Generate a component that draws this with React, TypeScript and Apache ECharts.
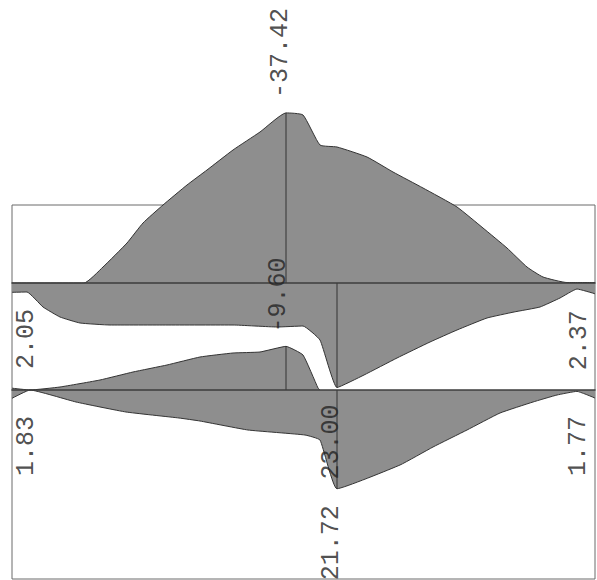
import React, { useEffect, useRef } from "react";
import * as echarts from "echarts";

// Beam positions (m) and diagram values
const X_MAX = 11.66;

// Diagram 1 (top)
const diag1Pos = [0, 1.44, 1.82, 2.3, 2.62, 3.02, 3.5, 3.9, 4.42, 4.96, 5.48, 5.82, 6.16, 6.5, 7.1, 7.62, 8.22, 8.9, 9.42, 9.9, 10.3, 10.62, 11.1, 11.66];
const diag1Val = [0, 0, -3.52, -8.8, -13.2, -17.16, -21.56, -24.86, -29.26, -33.22, -37.42, -36.96, -30.36, -29.92, -27.72, -24.42, -20.9, -16.72, -12.1, -7.7, -3.52, -1.32, -0.1, -0.1];

// Diagram 2 (middle, hanging from the first baseline)
const diag2Pos = [0, 0.3, 0.62, 0.96, 1.36, 1.96, 3.1, 4.42, 5.3, 5.82, 6.16, 6.5, 7.04, 7.7, 8.36, 8.9, 9.5, 10.04, 10.56, 10.96, 11.3, 11.66];
const diag2Val = [2.05, 1.98, 5.28, 7.48, 8.8, 9.24, 9.24, 9.24, 9.68, 9.46, 12.54, 23.0, 20.24, 16.5, 12.98, 10.34, 7.7, 6.38, 5.28, 3.3, 1.32, 2.37];

// Diagram 3 (lower baseline) – part above the baseline
const diag3UPos = [0, 0.36, 0.96, 1.76, 2.42, 3.1, 3.76, 4.42, 4.96, 5.48, 5.82, 6.12, 6.16];
const diag3UVal = [-0.4, 0, -0.66, -2.2, -3.96, -5.5, -7.26, -8.14, -8.36, -9.6, -7.7, -0.44, 0];

// Diagram 3 – part below the baseline
const diag3LPos = [0, 0.36, 1.28, 2.28, 3.34, 3.76, 4.72, 5.86, 6.16, 6.5, 7.76, 8.42, 9.1, 9.76, 10.42, 10.9, 11.3, 11.66];
const diag3LVal = [1.83, 0, 2.64, 4.84, 6.16, 6.82, 8.8, 9.9, 11.0, 21.72, 16.5, 12.54, 8.8, 5.06, 2.64, 1.1, 0.3, 1.77];

// Ordinate lines [position, value]
const ord1 = [5.48, -37.42];
const ord2 = [6.5, 23.0];
const ord3U = [5.48, -9.6];
const ord3L = [6.5, 21.72];

// Value labels: text, position, value (per diagram)
const labelsA = [{ t: "-37.42", x: 5.36, y: -50.6 }];
const labelsB = [
  { t: "2.05", x: 0.28, y: 12.3 },
  { t: "2.37", x: 11.34, y: 12.6 },
  { t: "23.00", x: 6.38, y: 35.0 },
];
const labelsC = [
  { t: "-9.60", x: 5.32, y: -20.9 },
  { t: "1.83", x: 0.28, y: 12.3 },
  { t: "1.77", x: 11.32, y: 12.3 },
  { t: "21.72", x: 6.38, y: 33.6 },
];

const K = 50 / 11; // px per value unit
const FILL = "#8e8e8e";
const EDGE = "#333333";

const zip = (a: number[], b: number[]) => a.map((v, i) => [v, b[i]]);

export default function App() {
  const ref = useRef<HTMLDivElement>(null);
  useEffect(() => {
    if (!ref.current) return;
    const chart = echarts.init(ref.current, undefined, { renderer: "svg" });

    const yA = { min: -60, max: 0 };
    const yB = { min: 0, max: 23.5 };
    const yC = { min: -22, max: 22 };

    const grids = [
      { left: 12, top: 205, width: 583, height: 374, show: true, borderColor: "#6a6a6a", borderWidth: 1, backgroundColor: "rgba(0,0,0,0)" },
      { left: 12, width: 583, top: 283 - (yA.max - yA.min) * K, height: (yA.max - yA.min) * K },
      { left: 12, width: 583, top: 283, height: (yB.max - yB.min) * K },
      { left: 12, width: 583, top: 390 + yC.min * K, height: (yC.max - yC.min) * K },
    ];

    const xAxis = [0, 1, 2, 3].map((i) => ({
      type: "value",
      gridIndex: i,
      min: 0,
      max: X_MAX,
      z: 5,
      axisLine: { show: i === 1 || i === 3, onZero: true, lineStyle: { color: "#3c3c3c", width: 1.5 } },
      axisTick: { show: false },
      axisLabel: { show: false },
      splitLine: { show: false },
    }));
    const yAxis = [
      { type: "value", gridIndex: 0, min: 0, max: 1, show: false },
      { type: "value", gridIndex: 1, min: yA.min, max: yA.max, inverse: true, show: false },
      { type: "value", gridIndex: 2, min: yB.min, max: yB.max, inverse: true, show: false },
      { type: "value", gridIndex: 3, min: yC.min, max: yC.max, inverse: true, show: false },
    ];

    const area = (gi: number, data: number[][], smooth: number) => ({
      type: "line",
      xAxisIndex: gi,
      yAxisIndex: gi,
      data,
      symbol: "none",
      silent: true,
      smooth,
      z: 2,
      lineStyle: { color: EDGE, width: 1 },
      areaStyle: { color: FILL, opacity: 1 },
    });
    const ordinate = (gi: number, o: number[]) => ({
      type: "line",
      xAxisIndex: gi,
      yAxisIndex: gi,
      data: [[o[0], 0], [o[0], o[1]]],
      symbol: "none",
      silent: true,
      z: 4,
      lineStyle: { color: EDGE, width: 1 },
    });
    const labels = (gi: number, arr: { t: string; x: number; y: number }[]) => ({
      type: "scatter",
      xAxisIndex: gi,
      yAxisIndex: gi,
      clip: false,
      silent: true,
      z: 6,
      symbolSize: 1,
      itemStyle: { color: "rgba(0,0,0,0)" },
      data: arr.map((d) => ({ name: d.t, value: [d.x, d.y] })),
      label: {
        show: true,
        position: "inside",
        rotate: 90,
        formatter: "{b}",
        fontFamily: "Liberation Mono",
        fontSize: 25,
        color: "#222222",
      },
    });

    chart.setOption({
      animation: false,
      grid: grids,
      xAxis,
      yAxis,
      series: [
        area(1, zip(diag1Pos, diag1Val), 0.15),
        area(2, zip(diag2Pos, diag2Val), 0.12),
        area(3, zip(diag3UPos, diag3UVal), 0.12),
        area(3, zip(diag3LPos, diag3LVal), 0.12),
        ordinate(1, ord1),
        ordinate(2, ord2),
        ordinate(3, ord3U),
        ordinate(3, ord3L),
        labels(1, labelsA),
        labels(2, labelsB),
        labels(3, labelsC),
      ],
    });
    return () => chart.dispose();
  }, []);
  return (
    <div style={{ position: "fixed", left: 0, top: 0, width: 597, height: 580, background: "#fff" }}>
      <div ref={ref} style={{ width: 597, height: 580 }} />
    </div>
  );
}
